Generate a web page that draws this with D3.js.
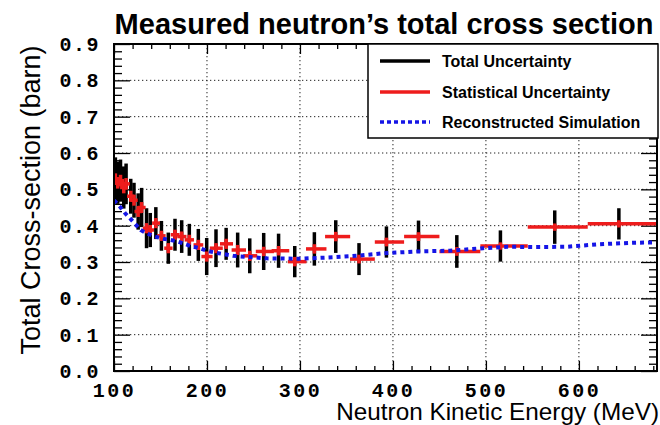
<!DOCTYPE html>
<html><head><meta charset="utf-8">
<script src="https://cdn.jsdelivr.net/npm/d3@7"></script>
<style>body{margin:0;background:#fff}svg{display:block}</style>
</head><body>
<svg id="chart" width="660" height="425"></svg>
<script>
// ---- data ----
const energy  = [101.5,104,107,110.5,113,118,121.5,126,129.7,135,139,145,151,158.4,165.6,172.8,181,190.7,199.7,209.7,220.6,233,246,261,277,294.4,315.5,338.5,363.5,393,427.5,468.7,515.6,574,643];
const binLow  = [99,100,103,106.5,109,114,117.5,122,125.5,131,135,141,146.5,154,161,168,176,185.5,194,203,214,226.5,239,252.5,269.5,287,306.5,327,353.8,380.5,412,450,494,545,609.5];
const binHigh = [104.5,108,111,114.5,117,122,125.5,130,134,139,143,149.5,155.5,163,170.5,178,186,196,206,217,228,242,254,272,288.5,307,328.5,354,380.5,412,450,494,545,609.5,690];
const xsec    = [0.528,0.518,0.524,0.505,0.515,0.481,0.470,0.439,0.450,0.393,0.388,0.407,0.372,0.338,0.375,0.370,0.361,0.347,0.315,0.338,0.350,0.333,0.317,0.329,0.331,0.301,0.336,0.370,0.308,0.355,0.370,0.329,0.344,0.396,0.405];
const statErr = [0.016,0.016,0.016,0.016,0.016,0.015,0.015,0.015,0.015,0.014,0.014,0.014,0.014,0.014,0.014,0.014,0.014,0.014,0.014,0.014,0.014,0.014,0.014,0.013,0.013,0.013,0.013,0.013,0.012,0.012,0.012,0.012,0.010,0.010,0.010];
const totErr  = [0.060,0.058,0.058,0.058,0.056,0.048,0.048,0.050,0.054,0.055,0.047,0.044,0.041,0.043,0.044,0.045,0.044,0.044,0.051,0.052,0.044,0.048,0.048,0.051,0.047,0.043,0.046,0.045,0.044,0.043,0.044,0.045,0.043,0.046,0.043];
const simEnergy = [100,106.5,112,118,123.7,128.7,135,144,153,160,169,176,183.5,192.5,199.7,208.6,228,264.5,300,335.5,361,389,426,461,497,522.7,550.6,587,622.7,658,684];
const simXsec   = [0.470,0.452,0.434,0.418,0.402,0.388,0.379,0.370,0.364,0.361,0.356,0.350,0.343,0.338,0.331,0.326,0.317,0.310,0.309,0.313,0.317,0.324,0.329,0.331,0.338,0.342,0.341,0.342,0.349,0.353,0.354];
const xTickLabels = [100,200,300,400,500,600];
const yTickLabels = [0,0.1,0.2,0.3,0.4,0.5,0.6,0.7,0.8,0.9];
const legendLabels = ["Total Uncertainty","Statistical Uncertainty","Reconstructed Simulation"];
const titleText = "Measured neutron\u2019s total cross section";
const xTitle = "Neutron Kinetic Energy (MeV)";
const yTitle = "Total Cross-section (barn)";

// ---- layout ----
const L = 114, R = 657, T = 44, B = 371;
const x = d3.scaleLinear().domain([100, 684]).range([L, R]);
const y = d3.scaleLinear().domain([0, 0.9]).range([B, T]);
const RED = "#ee1c1c", BLUE = "#1515e6";
const svg = d3.select("#chart");
const monoFont = "'Liberation Mono','DejaVu Sans Mono',monospace";
const sansFont = "'Liberation Sans',Arial,sans-serif";

svg.append("defs").append("clipPath").attr("id","clip")
  .append("rect").attr("x",L).attr("y",T).attr("width",R-L).attr("height",B-T);

// grid
const grid = svg.append("g").attr("stroke","#222").attr("stroke-width",1).attr("stroke-dasharray","1.3,2.7");
grid.selectAll("line.gx").data(xTickLabels.filter(d=>d>100)).join("line")
  .attr("x1",d=>x(d)).attr("x2",d=>x(d)).attr("y1",T).attr("y2",B);
grid.selectAll("line.gy").data(yTickLabels.filter(d=>d>0 && d<0.9)).join("line")
  .attr("class","gy").attr("x1",L).attr("x2",R).attr("y1",d=>y(d)).attr("y2",d=>y(d));

// minor ticks values
const xMinor = d3.range(120, 684, 20).filter(d=>d%100!==0);
const yMinor = d3.range(0.02, 0.9, 0.02).map(d=>+d.toFixed(2)).filter(d=>Math.abs(d*10-Math.round(d*10))>1e-6);

function styleAxis(g){ g.select(".domain").remove(); g.selectAll(".tick line").attr("stroke","#000").attr("stroke-width",1.3); }

// bottom
svg.append("g").attr("transform",`translate(0,${B})`)
  .call(d3.axisBottom(x).tickValues(xTickLabels).tickSizeInner(-10).tickSizeOuter(0).tickPadding(12).tickFormat(d3.format("d")))
  .call(styleAxis)
  .call(g=>g.selectAll("text").attr("font-family",monoFont).attr("font-weight","bold").attr("font-size",20).attr("letter-spacing","2.5px").attr("fill","#000"));
svg.append("g").attr("transform",`translate(0,${B})`)
  .call(d3.axisBottom(x).tickValues(xMinor).tickSizeInner(-5).tickSizeOuter(0).tickFormat("")).call(styleAxis);
// top
svg.append("g").attr("transform",`translate(0,${T})`)
  .call(d3.axisTop(x).tickValues(xTickLabels).tickSizeInner(-10).tickSizeOuter(0).tickFormat("")).call(styleAxis);
svg.append("g").attr("transform",`translate(0,${T})`)
  .call(d3.axisTop(x).tickValues(xMinor).tickSizeInner(-5).tickSizeOuter(0).tickFormat("")).call(styleAxis);
// left
svg.append("g").attr("transform",`translate(${L},0)`)
  .call(d3.axisLeft(y).tickValues(yTickLabels).tickSizeInner(-16).tickSizeOuter(0).tickPadding(14).tickFormat(d3.format(".1f")))
  .call(styleAxis)
  .call(g=>g.selectAll("text").attr("font-family",monoFont).attr("font-weight","bold").attr("font-size",20).attr("letter-spacing","1.5px").attr("fill","#000"));
svg.append("g").attr("transform",`translate(${L},0)`)
  .call(d3.axisLeft(y).tickValues(yMinor).tickSizeInner(-8).tickSizeOuter(0).tickFormat("")).call(styleAxis);
// right
svg.append("g").attr("transform",`translate(${R},0)`)
  .call(d3.axisLeft(y).tickValues(yTickLabels).tickSizeInner(16).tickSizeOuter(0).tickFormat("")).call(styleAxis);
svg.append("g").attr("transform",`translate(${R},0)`)
  .call(d3.axisLeft(y).tickValues(yMinor).tickSizeInner(8).tickSizeOuter(0).tickFormat("")).call(styleAxis);

// data
const data = energy.map((e,i)=>({e, lo:binLow[i], hi:binHigh[i], v:xsec[i], s:statErr[i], t:totErr[i]}));
const plot = svg.append("g").attr("clip-path","url(#clip)");
plot.selectAll("line.tot").data(data).join("line").attr("class","tot")
  .attr("x1",d=>x(d.e)).attr("x2",d=>x(d.e)).attr("y1",d=>y(d.v-d.t)).attr("y2",d=>y(d.v+d.t))
  .attr("stroke","#000").attr("stroke-width",3.5);
plot.selectAll("line.sh").data(data).join("line").attr("class","sh")
  .attr("x1",d=>x(d.lo)).attr("x2",d=>x(d.hi)).attr("y1",d=>y(d.v)).attr("y2",d=>y(d.v))
  .attr("stroke",RED).attr("stroke-width",3.5);
plot.selectAll("line.sv").data(data).join("line").attr("class","sv")
  .attr("x1",d=>x(d.e)).attr("x2",d=>x(d.e)).attr("y1",d=>y(d.v-d.s)).attr("y2",d=>y(d.v+d.s))
  .attr("stroke",RED).attr("stroke-width",3.5);
const sim = simEnergy.map((e,i)=>[e, simXsec[i]]);
plot.append("path").datum(sim)
  .attr("d", d3.line().x(d=>x(d[0])).y(d=>y(d[1])))
  .attr("fill","none").attr("stroke",BLUE).attr("stroke-width",4).attr("stroke-dasharray","4,4");

// frame
svg.append("rect").attr("x",L).attr("y",T).attr("width",R-L).attr("height",B-T)
  .attr("fill","none").attr("stroke","#000").attr("stroke-width",2);

// legend
const lg = svg.append("g");
lg.append("rect").attr("x",368).attr("y",T).attr("width",R+1-368).attr("height",94)
  .attr("fill","#fff").attr("stroke","#000").attr("stroke-width",1.5);
const legStyles = [{c:"#000",dash:null},{c:RED,dash:null},{c:BLUE,dash:"4,3"}];
const legY = [61, 92, 122];
legendLabels.forEach((t,i)=>{
  lg.append("line").attr("x1",380).attr("x2",430).attr("y1",legY[i]).attr("y2",legY[i])
    .attr("stroke",legStyles[i].c).attr("stroke-width",3.5).attr("stroke-dasharray",legStyles[i].dash);
  lg.append("text").attr("x",442).attr("y",legY[i]).attr("dy","0.36em").text(t)
    .attr("font-family",sansFont).attr("font-weight","bold").attr("font-size",16).attr("fill","#000");
});

// titles
svg.append("text").attr("x",384).attr("y",34).attr("text-anchor","middle").text(titleText)
  .attr("font-family",sansFont).attr("font-weight","bold").attr("font-size",29).attr("fill","#000");
svg.append("text").attr("x",659).attr("y",420).attr("text-anchor","end").text(xTitle)
  .attr("font-family",sansFont).attr("font-size",24.3).attr("fill","#000");
svg.append("text").attr("transform","translate(40,200) rotate(-90)").attr("text-anchor","middle").text(yTitle)
  .attr("font-family",sansFont).attr("font-size",27).attr("fill","#000");
</script>
</body></html>
